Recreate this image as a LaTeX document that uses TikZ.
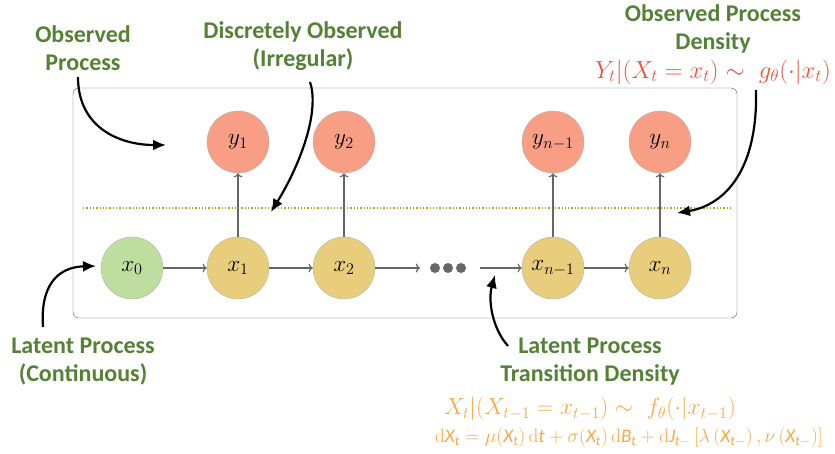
\documentclass[tikz,border=0pt]{standalone}
\usepackage{amsmath, amssymb}
\usepackage{fontspec}
\usepackage{tikz}
\usetikzlibrary{arrows.meta}
\newfontfamily\labfont{Carlito}
\definecolor{obsred}{RGB}{248, 158, 132}
\definecolor{latyellow}{RGB}{232, 205, 125}
\definecolor{initgreen}{RGB}{190, 222, 160}
\definecolor{labgreen}{RGB}{84, 130, 53}
\definecolor{densred}{RGB}{238, 80, 60}
\definecolor{densorange}{RGB}{250, 168, 70}
\definecolor{dotolive}{RGB}{165, 165, 30}
\newcommand{\sv}[1]{\text{\labfont\itshape #1}}
\newcommand{\stlab}[1]{\scalebox{1.12}{$#1$}}

\begin{document}
\begin{tikzpicture}[x=1pt, y=-1pt,
    state/.style={circle, draw=gray!60, thin, minimum size=62pt, inner sep=0pt,
      font=\fontsize{20}{24}\selectfont},
    lab/.style={text=labgreen, align=center, font=\labfont\bfseries\fontsize{24}{28}\selectfont},
    link/.style={->, draw=black!60, line width=1.2pt},
    pointer/.style={-{Latex[length=13pt, width=11pt]}, line width=2.2pt}]
    \useasboundingbox (0,0) rectangle (835,453);

    % frame and observation threshold
    \draw[black!65, rounded corners=6pt] (73,88) rectangle (737,318);
    \draw[dotolive, line width=1.3pt, dotted] (83,208) -- (730,208);

    % observed states
    \node[state, fill=obsred] (y1) at (238,142) {\stlab{y_1}};
    \node[state, fill=obsred] (y2) at (344,142) {\stlab{y_2}};
    \node[state, fill=obsred] (yn1) at (553,142) {\stlab{y_{n-1}}};
    \node[state, fill=obsred] (yn) at (660,142) {\stlab{y_n}};

    % latent states
    \node[state, fill=initgreen] (x0) at (132,268) {\stlab{x_0}};
    \node[state, fill=latyellow] (x1) at (238,268) {\stlab{x_1}};
    \node[state, fill=latyellow] (x2) at (344,268) {\stlab{x_2}};
    \node[state, fill=latyellow] (xn1) at (553,268) {\stlab{x_{n-1}}};
    \node[state, fill=latyellow] (xn) at (660,268) {\stlab{x_n}};
    \foreach \i/\px in {1/435, 2/448, 3/461}
      \node[circle, fill=black!60, inner sep=0pt, minimum size=10pt] (dot\i) at (\px,268) {};
    \coordinate (gapL) at (420,268);
    \coordinate (gapR) at (480,268);

    \draw[link] (x0) -- (x1);
    \draw[link] (x1) -- (x2);
    \draw[link] (x2) -- (gapL);
    \draw[link] (gapR) -- (xn1);
    \draw[link] (xn1) -- (xn);
    \draw[link] (x1) -- (y1);
    \draw[link] (x2) -- (y2);
    \draw[link] (xn1) -- (yn1);
    \draw[link] (xn) -- (yn);

    % labels
    \node[lab] (obs) at (83,48) {Observed\\Process};
    \node[lab] (disc) at (303,46) {Discretely Observed\\(Irregular)};
    \node[lab] (obsd) at (713,29) {Observed Process\\Density};
    \node[text=densred, font=\fontsize{20}{24}\selectfont, scale=1.19, inner sep=1pt] (gdens) at (713,72)
      {$Y_t|(X_t = x_t) \sim\ g_\theta(\cdot|x_t)$};
    \node[lab] (lat) at (83,362) {Latent Process\\(Continuous)};
    \node[lab] (trans) at (590,362) {Latent Process\\Transition Density};
    \node[text=densorange, font=\fontsize{20}{24}\selectfont, scale=1.13, inner sep=1pt] (fdens) at (590,409)
      {$X_t|(X_{t-1} = x_{t-1}) \sim\ f_\theta(\cdot|x_{t-1})$};
    \node[text=densorange, font=\fontsize{17}{20}\selectfont, scale=1.13, inner sep=1pt] (sde) at (629,438)
      {$\mathrm{d}\sv{X}_{\sv{t}} = \mu(\sv{X}_{\sv{t}})\,\mathrm{d}\sv{t} + \sigma(\sv{X}_{\sv{t}})\,\mathrm{d}\sv{B}_{\sv{t}} + \mathrm{d}\sv{J}_{\sv{t}-}\left[\lambda\left(\sv{X}_{\sv{t}-}\right), \nu\left(\sv{X}_{\sv{t}-}\right)\right]$};

    % pointers
    \coordinate (obsS) at (78,77);
    \coordinate (obsE) at (166,145);
    \coordinate (discS) at (310,82);
    \coordinate (discE) at (271,212);
    \coordinate (obsdS) at (756,90);
    \coordinate (obsdE) at (677,213);
    \coordinate (latS) at (43,327);
    \coordinate (latE) at (96,266);
    \coordinate (transS) at (508,346);
    \coordinate (transE) at (495,275);
    \draw[pointer] (obsS) .. controls (78,128) and (120,145) .. (obsE);
    \draw[pointer] (discS) .. controls (320,112) and (300,165) .. (discE);
    \draw[pointer] (obsdS) .. controls (758,170) and (725,205) .. (obsdE);
    \draw[pointer] (latS) .. controls (40,285) and (58,267) .. (latE);
    \draw[pointer] (transS) .. controls (492,328) and (488,300) .. (transE);
\end{tikzpicture}
\end{document}
